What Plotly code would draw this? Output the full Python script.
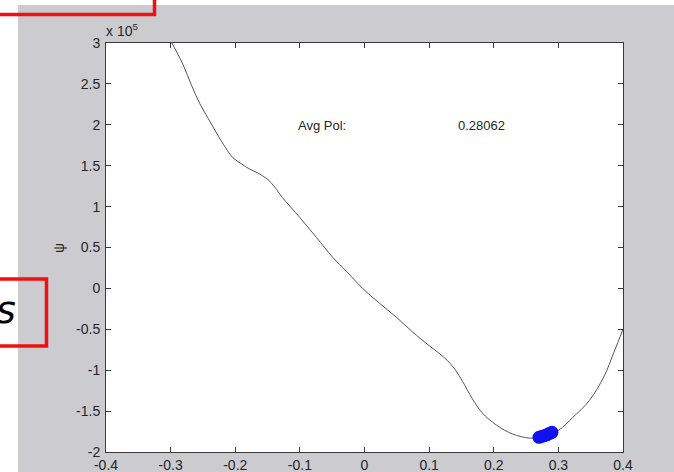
import plotly.graph_objects as go

# Curve: polarization vs free energy psi (psi in units of 1e5)
pol = [-0.305, -0.298, -0.281, -0.268, -0.255, -0.242, -0.229, -0.215, -0.204, -0.190,
       -0.178, -0.165, -0.151, -0.139, -0.127, -0.100, -0.074, -0.049, -0.028, -0.003,
       0.023, 0.049, 0.074, 0.100, 0.115, 0.128, 0.140, 0.152, 0.167, 0.182,
       0.204, 0.229, 0.255, 0.268, 0.280, 0.301, 0.322, 0.348, 0.371, 0.386, 0.400]
psi = [3.10, 3.00, 2.74, 2.49, 2.26, 2.08, 1.90, 1.72, 1.60, 1.52,
       1.46, 1.41, 1.34, 1.24, 1.11, 0.866, 0.62, 0.378, 0.21, 0.0,
       -0.18, -0.35, -0.53, -0.70, -0.79, -0.88, -0.99, -1.14, -1.35, -1.52,
       -1.67, -1.78, -1.83, -1.825, -1.80, -1.73, -1.58, -1.37, -1.07, -0.78, -0.50]

# Blue cluster of sampled states
blob_pol = [0.270, 0.274, 0.278, 0.282, 0.286, 0.290]
blob_psi = [-1.82, -1.81, -1.80, -1.79, -1.775, -1.76]

x_ticks = [-0.4, -0.3, -0.2, -0.1, 0, 0.1, 0.2, 0.3, 0.4]
x_labels = ["-0.4", "-0.3", "-0.2", "-0.1", "0", "0.1", "0.2", "0.3", "0.4"]
y_ticks = [-2, -1.5, -1, -0.5, 0, 0.5, 1, 1.5, 2, 2.5, 3]
y_labels = ["-2", "-1.5", "-1", "-0.5", "0", "0.5", "1", "1.5", "2", "2.5", "3"]

avg_label = "Avg Pol:"
avg_value = "0.28062"

W, H = 674, 472
L, R, T, B = 106, 623, 43, 452


def fx(px):
    return (px - L) / (R - L)


def fy(py):
    return (B - py) / (B - T)


FONT = "Liberation Sans, Arial, sans-serif"
AXC = "#3a3a3a"
TXT = "#262626"

fig = go.Figure()
fig.add_trace(go.Scatter(x=pol, y=psi, mode="lines",
                         line=dict(color="#555555", width=1, shape="spline", smoothing=1.0),
                         hoverinfo="skip", showlegend=False))
fig.add_trace(go.Scatter(x=blob_pol, y=blob_psi, mode="markers",
                         marker=dict(color="#1010f0", size=13, line=dict(width=0)),
                         showlegend=False))

axis_common = dict(showgrid=False, zeroline=False, showline=True, linecolor=AXC, linewidth=1,
                   mirror="ticks", ticks="inside", ticklen=5, tickcolor=AXC, tickwidth=1,
                   automargin=False,
                   tickfont=dict(family=FONT, size=14, color=TXT))

fig.update_layout(
    width=W, height=H,
    margin=dict(l=L, r=W - R, t=T, b=H - B, pad=0, autoexpand=False),
    paper_bgcolor="#cbcbd0",
    plot_bgcolor="white",
    xaxis=dict(range=[-0.4, 0.4], tickmode="array", tickvals=x_ticks, ticktext=x_labels,
               ticklabelstandoff=0, **axis_common),
    yaxis=dict(range=[-2, 3], tickmode="array", tickvals=y_ticks, ticktext=y_labels,
               ticklabelstandoff=2, **axis_common),
    showlegend=False,
)

shapes = []
# white strips outside the figure window
shapes.append(dict(type="rect", xref="paper", yref="paper", x0=fx(-2), x1=fx(W + 2), y0=fy(-2), y1=fy(5),
                   fillcolor="white", line=dict(width=0), layer="above"))
shapes.append(dict(type="rect", xref="paper", yref="paper", x0=fx(-2), x1=fx(18), y0=fy(-2), y1=fy(H + 2),
                   fillcolor="white", line=dict(width=0), layer="above"))
# red boxes
red = dict(color="#f01010", width=3.5)
shapes.append(dict(type="path", xref="paper", yref="paper",
                   path=f"M {fx(-5)},{fy(14.5)} L {fx(154.5)},{fy(14.5)} L {fx(154.5)},{fy(-5)}",
                   line=red, layer="above"))
shapes.append(dict(type="path", xref="paper", yref="paper",
                   path=f"M {fx(-5)},{fy(279)} L {fx(46.5)},{fy(279)} L {fx(46.5)},{fy(346)} L {fx(-5)},{fy(346)}",
                   line=red, layer="above"))
fig.update_layout(shapes=shapes)

ann = []
ann.append(dict(xref="paper", yref="paper", x=fx(18), y=fy(310), text="<i>s</i>", showarrow=False,
                xanchor="right", yanchor="middle", font=dict(family="DejaVu Sans, sans-serif", size=38, color="black")))
ann.append(dict(xref="paper", yref="paper", x=fx(104), y=fy(30), text="x 10<sup>5</sup>", showarrow=False,
                xanchor="left", yanchor="middle", font=dict(family=FONT, size=14, color=TXT)))
ann.append(dict(xref="paper", yref="paper", x=fx(59), y=fy(248), text="ψ", showarrow=False, textangle=-90,
                xanchor="center", yanchor="middle", font=dict(family=FONT, size=14, color=TXT)))
ann.append(dict(xref="paper", yref="paper", x=fx(296), y=fy(125), text=avg_label, showarrow=False,
                xanchor="left", yanchor="middle", font=dict(family=FONT, size=13, color=TXT)))
ann.append(dict(xref="paper", yref="paper", x=fx(456), y=fy(125), text=avg_value, showarrow=False,
                xanchor="left", yanchor="middle", font=dict(family=FONT, size=13, color=TXT)))
fig.update_layout(annotations=ann)

fig.write_html("out.html", config={"displayModeBar": False},
               post_script="document.body.style.margin='0';document.body.style.overflow='hidden';")
